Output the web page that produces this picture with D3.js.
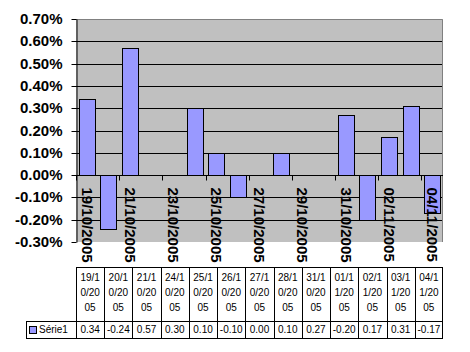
<!DOCTYPE html>
<html>
<head>
<meta charset="utf-8">
<script src="https://cdn.jsdelivr.net/npm/d3@7"></script>
<style>
  body { margin: 0; background: #fff; }
  svg text { font-family: "Liberation Sans", Arial, sans-serif; }
</style>
</head>
<body>
<div id="chart"></div>
<script>
// data
var dates = ["19/10/2005", "20/10/2005", "21/10/2005", "24/10/2005", "25/10/2005", "26/10/2005",
             "27/10/2005", "28/10/2005", "31/10/2005", "01/11/2005", "02/11/2005", "03/11/2005", "04/11/2005"];
var values = [0.34, -0.24, 0.57, 0.30, 0.10, -0.10, 0.00, 0.10, 0.27, -0.20, 0.17, 0.31, -0.17];
var tickLabels = ["19/10/2005", "21/10/2005", "23/10/2005", "25/10/2005", "27/10/2005",
                  "29/10/2005", "31/10/2005", "02/11/2005", "04/11/2005"];
var yTicks = [-0.003, -0.002, -0.001, 0, 0.001, 0.002, 0.003, 0.004, 0.005, 0.006, 0.007];
var seriesName = "Série1";

function drawChart() {
    var w = 470, h = 352;
    var pLeft = 76, pRight = 443, pTop = 19, pBottom = 242;
    var tableTop = 267, rowSplit = 321, tableBottom = 338, legendLeft = 26;

    var parse = d3.timeParse("%d/%m/%Y");
    var fmt = d3.timeFormat("%d/%m/%Y");
    var locale = d3.formatLocale({decimal: ".", thousands: ",", grouping: [3], currency: ["", ""], minus: "-"});

    // all calendar days from first to last date (date axis)
    var days = d3.timeDay.range(parse(dates[0]), d3.timeDay.offset(parse(dates[dates.length - 1]), 1)).map(fmt);

    var svg = d3.select("#chart").append("svg")
        .attr("width", w)
        .attr("height", h);

    var x = d3.scaleBand().domain(days).range([pLeft, pRight]).paddingInner(0.26).paddingOuter(0.13);
    var step = (pRight - pLeft) / days.length;
    var y = d3.scaleLinear().domain([-0.003, 0.007]).range([pBottom, pTop]);

    // plot background
    svg.append("rect")
        .attr("x", pLeft).attr("y", pTop)
        .attr("width", pRight - pLeft).attr("height", pBottom - pTop)
        .attr("fill", "#c0c0c0");

    // gridlines
    svg.append("g").selectAll("line")
        .data(yTicks.filter(function(d) { return d > -0.003 && d < 0.007; }))
        .enter().append("line")
        .attr("x1", pLeft).attr("x2", pRight)
        .attr("y1", function(d) { return Math.round(y(d)) + 0.5; })
        .attr("y2", function(d) { return Math.round(y(d)) + 0.5; })
        .attr("stroke", "#000");

    // gray border top/right
    svg.append("path")
        .attr("d", "M" + pLeft + "," + (pTop + 0.5) + "H" + (pRight - 0.5) + "V" + pBottom)
        .attr("fill", "none").attr("stroke", "#808080");

    // bars
    svg.append("g").selectAll("rect")
        .data(values)
        .enter().append("rect")
        .attr("x", function(d, i) { return Math.round(x(dates[i])) + 0.5; })
        .attr("width", Math.round(x.bandwidth()))
        .attr("y", function(d) { return Math.round(y(Math.max(d / 100, 0))) + 0.5; })
        .attr("height", function(d) { return Math.abs(Math.round(y(d / 100)) - Math.round(y(0))); })
        .attr("fill", "#9999ff")
        .attr("stroke", "#000");

    // y axis
    var yAxis = d3.axisLeft(y).tickValues(yTicks).tickFormat(locale.format(".2%")).tickSize(5).tickSizeOuter(0);
    var gy = svg.append("g")
        .attr("transform", "translate(" + (pLeft + 0.5) + ",0)")
        .call(yAxis);
    gy.selectAll("line, path").attr("stroke", "#000");
    gy.selectAll("text")
        .attr("x", -14)
        .style("font-size", "15px")
        .style("font-weight", "bold")
        .attr("fill", "#000");
    gy.selectAll(".tick").attr("transform", function(d) { return "translate(0," + (Math.round(y(d)) + 0.5) + ")"; });

    // zero line with ticks
    var zy = Math.round(y(0)) + 0.5;
    svg.append("line")
        .attr("x1", pLeft).attr("x2", pRight)
        .attr("y1", zy).attr("y2", zy)
        .attr("stroke", "#000");
    svg.append("g").selectAll("line")
        .data(tickLabels)
        .enter().append("line")
        .attr("x1", function(d) { return Math.round(pLeft + days.indexOf(d) * step) + 0.5; })
        .attr("x2", function(d) { return Math.round(pLeft + days.indexOf(d) * step) + 0.5; })
        .attr("y1", zy).attr("y2", zy + 5)
        .attr("stroke", "#000");

    // rotated date labels
    svg.append("g").selectAll("text")
        .data(tickLabels)
        .enter().append("text")
        .attr("transform", function(d) {
            return "translate(" + (pLeft + (days.indexOf(d) + 0.5) * step) + "," + (zy + 12) + ") rotate(90)";
        })
        .attr("dy", "0.35em")
        .style("font-size", "15px")
        .style("font-weight", "bold")
        .text(function(d) { return d; });

    // data table
    var table = svg.append("g").attr("fill", "none").attr("stroke", "#000");
    table.append("rect")
        .attr("x", pLeft + 0.5).attr("y", tableTop + 0.5)
        .attr("width", pRight - pLeft - 1).attr("height", tableBottom - tableTop);
    table.append("rect")
        .attr("x", legendLeft + 0.5).attr("y", rowSplit + 0.5)
        .attr("width", pLeft - legendLeft).attr("height", tableBottom - rowSplit);
    table.append("line")
        .attr("x1", pLeft).attr("x2", pRight)
        .attr("y1", rowSplit + 0.5).attr("y2", rowSplit + 0.5);
    var colW = (pRight - pLeft) / dates.length;
    table.selectAll(".col")
        .data(dates.slice(1))
        .enter().append("line")
        .attr("x1", function(d, i) { return Math.round(pLeft + (i + 1) * colW) + 0.5; })
        .attr("x2", function(d, i) { return Math.round(pLeft + (i + 1) * colW) + 0.5; })
        .attr("y1", tableTop).attr("y2", tableBottom);

    // header cells: date wrapped every 4 characters
    var head = svg.append("g").selectAll("text")
        .data(dates)
        .enter().append("text")
        .attr("x", function(d, i) { return pLeft + (i + 0.5) * colW; })
        .attr("y", tableTop)
        .attr("text-anchor", "middle")
        .style("font-size", "10px");
    head.selectAll("tspan")
        .data(function(d) { return [d.slice(0, 4), d.slice(4, 8), d.slice(8)]; })
        .enter().append("tspan")
        .attr("x", function() { return d3.select(this.parentNode).attr("x"); })
        .attr("y", function(d, i) { return tableTop + 14 + i * 15; })
        .text(function(d) { return d; });

    // value cells
    svg.append("g").selectAll("text")
        .data(values)
        .enter().append("text")
        .attr("x", function(d, i) { return pLeft + (i + 0.5) * colW; })
        .attr("y", tableBottom - 5)
        .attr("text-anchor", "middle")
        .style("font-size", "10px")
        .text(function(d) { return locale.format(".2f")(d); });

    // legend key
    svg.append("rect")
        .attr("x", legendLeft + 3.5).attr("y", rowSplit + 5.5)
        .attr("width", 7).attr("height", 7)
        .attr("fill", "#9999ff").attr("stroke", "#000");
    svg.append("text")
        .attr("x", legendLeft + 13).attr("y", tableBottom - 5)
        .style("font-size", "10px")
        .text(seriesName);
}

drawChart();
</script>
</body>
</html>
